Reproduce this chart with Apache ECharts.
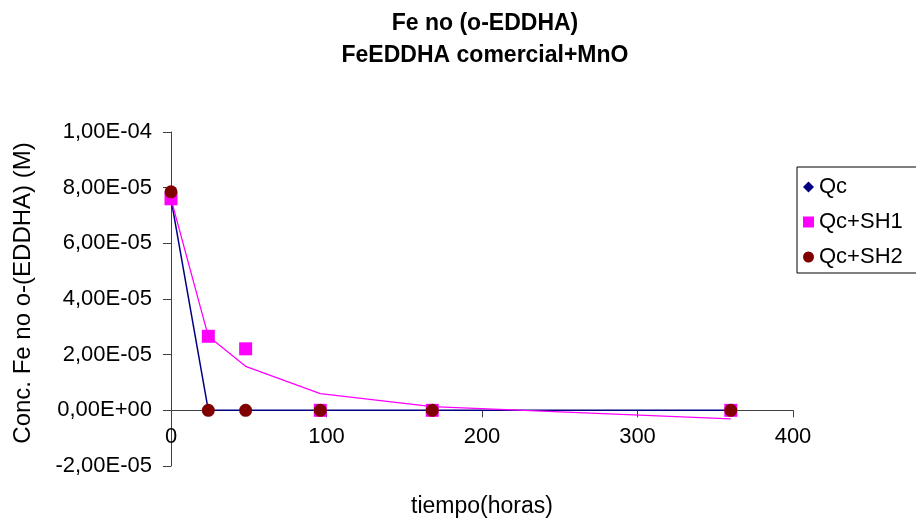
<!DOCTYPE html>
<html>
<head>
<meta charset="utf-8">
<script src="https://cdn.jsdelivr.net/npm/echarts@6/dist/echarts.min.js"></script>
<style>
html,body{margin:0;padding:0;background:#fff;}
#chart{width:916px;height:519px;}
</style>
</head>
<body>
<div id="chart"></div>
<script>
// ---- data ----
const titleLines = ['Fe no (o-EDDHA)', 'FeEDDHA comercial+MnO'];
const xName = 'tiempo(horas)';
const yName = 'Conc. Fe no o-(EDDHA) (M)';
const seriesNames = ['Qc', 'Qc+SH1', 'Qc+SH2'];
const hours = [0, 24, 48, 96, 168, 360];
const qc = [7.6e-5, 0, 0, 0, 0, 0];
const qcSH1 = [7.6e-5, 2.66e-5, 2.21e-5, 0, 0, 0];
const qcSH2 = [7.85e-5, 0, 0, 0, 0, 0];
const qcSH1Line = [7.6e-5, 2.66e-5, 1.58e-5, 6.0e-6, 1.3e-6, -3.1e-6];
const xTicks = [0, 100, 200, 300, 400];
const yTicks = [-2e-5, 0, 2e-5, 4e-5, 6e-5, 8e-5, 1e-4];

const pair = arr => hours.map((h, i) => [h, arr[i]]);
function fmt(v) {
  if (Math.abs(v) < 1e-12) return '0,00E+00';
  const parts = v.toExponential(2).split('e');
  const n = parseInt(parts[1], 10);
  return parts[0].replace('.', ',') + 'E' + (n < 0 ? '-' : '+') + String(Math.abs(n)).padStart(2, '0');
}

const FONT = '"Liberation Sans", Arial, sans-serif';
const axisColor = '#404040';
const chart = echarts.init(document.getElementById('chart'), null, {renderer: 'canvas'});
chart.setOption({
  animation: false,
  backgroundColor: '#ffffff',
  grid: {left: 171, right: 123, top: 132, bottom: 53, containLabel: false},
  graphic: [
    {type: 'text', x: 485, y: 8, style: {text: titleLines.join('\n'), textAlign: 'center', textVerticalAlign: 'top',
      font: 'bold 23px ' + FONT, lineHeight: 32, fill: '#000'}},
    {type: 'text', x: 482, y: 507, style: {text: xName, textAlign: 'center', textVerticalAlign: 'middle',
      font: '23px ' + FONT, fill: '#000'}},
    {type: 'text', x: 23, y: 293, rotation: Math.PI / 2, style: {text: yName, textAlign: 'center', textVerticalAlign: 'middle',
      font: '24px ' + FONT, fill: '#000'}}
  ],
  legend: {
    orient: 'vertical', left: 797, top: 167,
    padding: [9, 30, 5, 6], itemGap: 13, itemWidth: 11, itemHeight: 11,
    borderColor: '#000', borderWidth: 1, backgroundColor: '#fff',
    textStyle: {fontFamily: FONT, fontSize: 22, color: '#000'},
    data: [
      {name: seriesNames[0], icon: 'diamond'},
      {name: seriesNames[1], icon: 'rect'},
      {name: seriesNames[2], icon: 'circle'}
    ]
  },
  xAxis: {
    type: 'value', min: xTicks[0], max: xTicks[xTicks.length - 1], interval: 100,
    axisLine: {show: true, onZero: true, lineStyle: {color: axisColor, width: 1}},
    axisTick: {show: true, length: 7, lineStyle: {color: axisColor}},
    axisLabel: {margin: -40, fontFamily: FONT, fontSize: 22, color: '#000'},
    splitLine: {show: false}
  },
  yAxis: {
    type: 'value', min: yTicks[0], max: yTicks[yTicks.length - 1], interval: 2e-5,
    axisLine: {show: true, onZero: false, lineStyle: {color: axisColor, width: 1}},
    axisTick: {show: true, length: 8, lineStyle: {color: axisColor}},
    axisLabel: {margin: 19, fontFamily: FONT, fontSize: 22, color: '#000', formatter: fmt},
    splitLine: {show: false}
  },
  series: [
    {name: seriesNames[0], type: 'line', data: pair(qc), color: '#000080',
      symbol: 'diamond', symbolSize: 12, lineStyle: {color: '#000080', width: 1.5},
      itemStyle: {color: '#000080', opacity: 1}, z: 2},
    {name: 'fit', type: 'line', data: pair(qcSH1Line), showSymbol: false, symbol: 'none',
      lineStyle: {color: '#ff00ff', width: 1.3}, color: '#ff00ff', z: 3},
    {name: seriesNames[1], type: 'scatter', data: pair(qcSH1), symbol: 'rect', symbolSize: 13,
      itemStyle: {color: '#ff00ff', opacity: 1}, color: '#ff00ff', z: 4},
    {name: seriesNames[2], type: 'scatter', data: pair(qcSH2), symbol: 'circle', symbolSize: 13,
      itemStyle: {color: '#800000', opacity: 1}, color: '#800000', z: 5}
  ]
});
</script>
</body>
</html>
